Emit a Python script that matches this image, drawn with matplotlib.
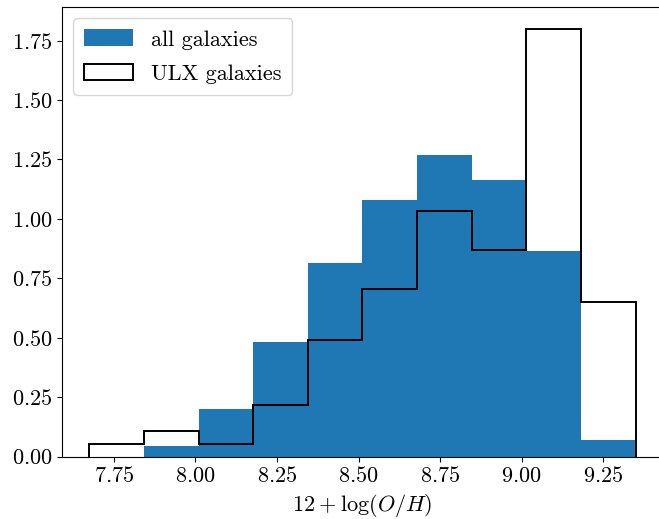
import numpy as np
import matplotlib
matplotlib.use('Agg')
import matplotlib.pyplot as plt
from matplotlib.patches import Patch

# look of a latex figure, cm fonts shipped with matplotlib
plt.rcParams['font.family'] = 'serif'
plt.rcParams['font.serif'] = ['cmr10']
plt.rcParams['mathtext.fontset'] = 'cm'
plt.rcParams['axes.formatter.use_mathtext'] = True
plt.rcParams['font.size'] = 16

# bin edges of the metallicity histogram
lo, hi, nbins = 7.675, 9.349, 10
edges = np.linspace(lo, hi, nbins + 1)

# normalised heights
all_gal = [0.0, 0.047, 0.199, 0.482, 0.814, 1.078, 1.268, 1.163, 0.867, 0.072]
ulx_gal = [0.054, 0.109, 0.054, 0.217, 0.489, 0.706, 1.032, 0.869, 1.80, 0.652]

centers = 0.5*(edges[:-1] + edges[1:])

fig, ax = plt.subplots(figsize=(6.59, 5.19), dpi=100)
# right spine sits just off the canvas in the original
fig.subplots_adjust(left=0.094, right=1.006, top=0.986, bottom=0.120)

ax.hist(centers, bins=edges, weights=all_gal, color='C0', label='all galaxies')
ax.hist(centers, bins=edges, weights=ulx_gal, histtype='step', color='k',
        lw=1.4, label='ULX galaxies')

# mathtext packs the + tightly, add the tex spacing by hand
ax.set_xlabel(r'$12\:+\:\log(O/H)$')
ax.set_xticks([7.75, 8.0, 8.25, 8.5, 8.75, 9.0, 9.25])
ax.set_yticks(np.arange(0, 1.76, 0.25))

# step hist gives a line handle in the legend, want a box
handles = [Patch(facecolor='C0', label='all galaxies'),
           Patch(facecolor='white', edgecolor='k', lw=1.4, label='ULX galaxies')]
ax.legend(handles=handles, loc='upper left', handlelength=2.2, handleheight=0.78,
          labelspacing=0.63, borderpad=0.5)

fig.savefig('out.png', dpi=100)
